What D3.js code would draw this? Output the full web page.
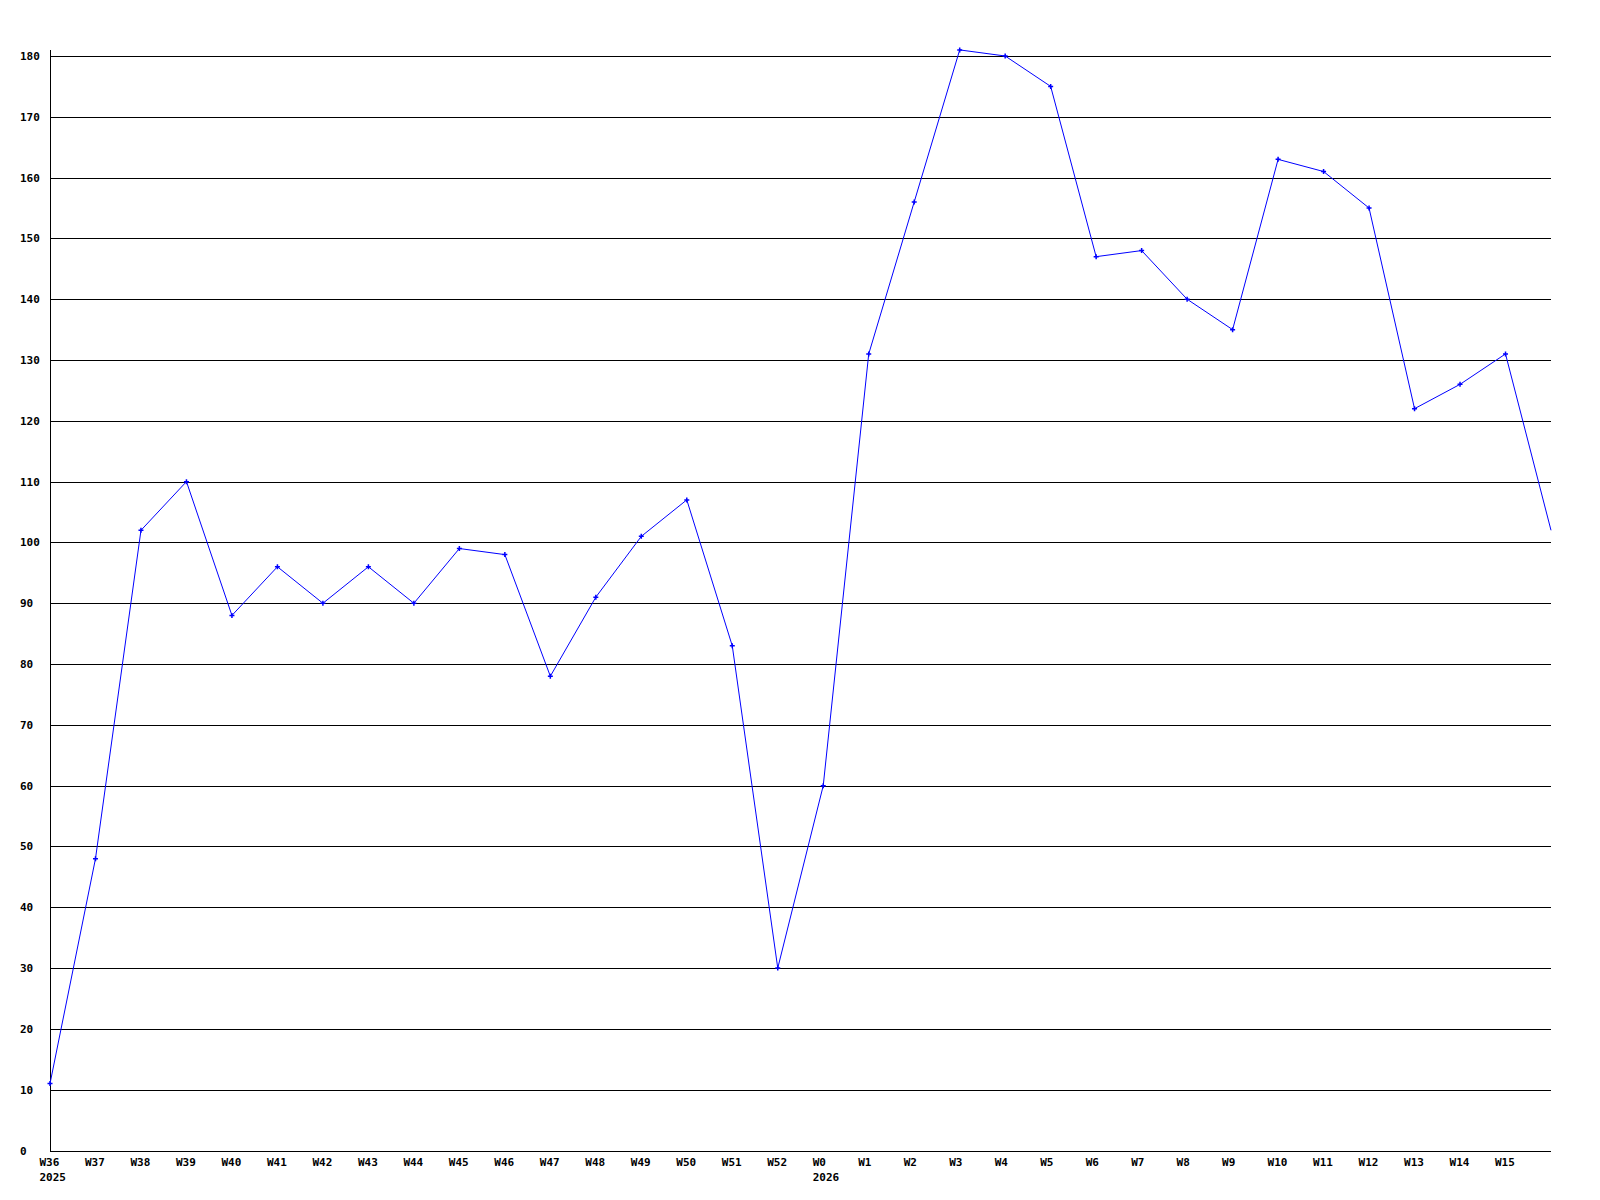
<!DOCTYPE html>
<html>
<head>
<meta charset="utf-8">
<script src="https://cdn.jsdelivr.net/npm/d3@7"></script>
<style>
  html, body { margin: 0; padding: 0; background: #fff; }
  svg { display: block; }
  text { font-family: "DejaVu Sans Mono", "Liberation Mono", monospace; font-weight: bold; font-size: 11px; fill: #000; }
</style>
</head>
<body>
<svg id="chart" width="1600" height="1200"></svg>
<script>
const weeks = ["W36","W37","W38","W39","W40","W41","W42","W43","W44","W45","W46","W47","W48","W49","W50","W51","W52","W0","W1","W2","W3","W4","W5","W6","W7","W8","W9","W10","W11","W12","W13","W14","W15","W16"];
const values = [11,48,102,110,88,96,90,96,90,99,98,78,91,101,107,83,30,60,131,156,181,180,175,147,148,140,135,163,161,155,122,126,131,102];
const yearLabels = [{week:"W36", year:"2025"}, {week:"W0", year:"2026"}];
const yTicks = [0,10,20,30,40,50,60,70,80,90,100,110,120,130,140,150,160,170,180];
const labelledWeeks = weeks.slice(0, 33);

(function () {
const svg = d3.select("#chart");
const mLeft = 50, mRight = 1551, mTop = 50, mBottom = 1150.5;

const x = d3.scaleLinear().domain([0, weeks.length - 1]).range([mLeft, mRight]);
const y = d3.scaleLinear().domain([0, 180]).range([mBottom, 56]);

// gridlines
svg.append("g").selectAll("line").data(yTicks).join("line")
  .attr("x1", mLeft).attr("x2", mRight)
  .attr("y1", d => Math.round(y(d)) + 0.5).attr("y2", d => Math.round(y(d)) + 0.5)
  .attr("stroke", "#000").attr("stroke-width", 1).attr("shape-rendering", "crispEdges");

// y axis line
svg.append("line").attr("x1", mLeft + 0.5).attr("x2", mLeft + 0.5)
  .attr("y1", mTop).attr("y2", Math.round(y(0)) + 1)
  .attr("stroke", "#000").attr("stroke-width", 1).attr("shape-rendering", "crispEdges");

// y labels
svg.append("g").selectAll("text").data(yTicks).join("text")
  .attr("x", 20).attr("y", d => Math.round(y(d)))
  .attr("dominant-baseline", "central")
  .text(d => d);

// x labels
svg.append("g").selectAll("text").data(labelledWeeks).join("text")
  .attr("x", (d, i) => x(i) - 10.5).attr("y", 1162)
  .attr("dominant-baseline", "central")
  .text(d => d);

svg.append("g").selectAll("text").data(yearLabels).join("text")
  .attr("x", d => x(weeks.indexOf(d.week)) - 10.5).attr("y", 1177)
  .attr("dominant-baseline", "central")
  .text(d => d.year);

// line
const line = d3.line().x((d, i) => x(i)).y(d => y(d));
svg.append("path").datum(values)
  .attr("d", line).attr("fill", "none").attr("stroke", "#0000ff").attr("stroke-width", 1);

// markers
const pts = values.slice(0, values.length - 1);
const mk = svg.append("g").attr("stroke", "#0000ff").attr("stroke-width", 1.5);
mk.selectAll("path").data(pts).join("path")
  .attr("d", (d, i) => {
    const cx = x(i), cy = y(d);
    return `M${cx-2.5},${cy}H${cx+2.5}M${cx},${cy-2.5}V${cy+2.5}`;
  });
})();
</script>
</body>
</html>
